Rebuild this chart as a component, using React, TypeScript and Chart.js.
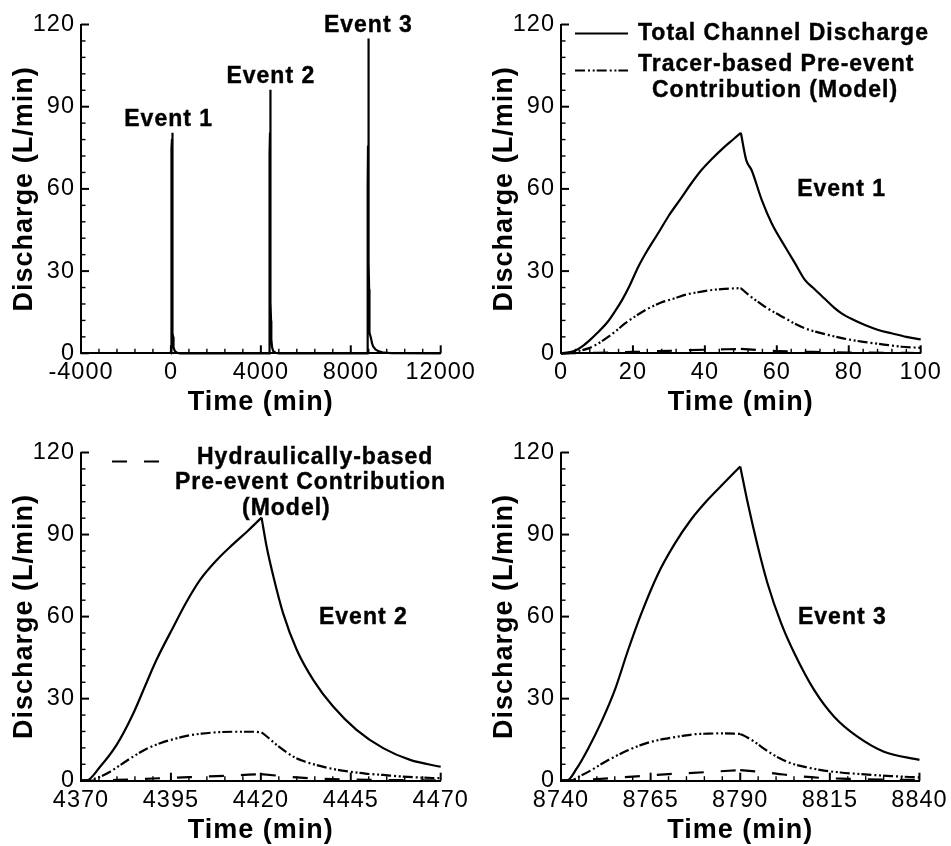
import React, { useEffect, useRef } from "react";
import { Chart, registerables } from "chart.js";

Chart.register(...registerables);

const FONT = "'Liberation Sans', Arial, Helvetica, sans-serif";

// ---------------- Event 1 (0 - 100 min) ----------------
const e1PeakTime = 50;
const e1TotalTime = [0, 1, 2, 4, 6, 8, 10, 13, 15, 17, 19, 21.5, 24, 27, 30, 33.5, 36, 39, 42, 45, 48, 50, 51.5, 53, 55.8, 58.6, 62.3, 65, 67.8, 70, 73.4, 76, 78, 81, 84.5, 88, 91.9, 96, 100];
const e1TotalQ = [0, 0, 0.3, 1.0, 2.6, 4.8, 7.3, 11.5, 15.3, 19.5, 24.5, 31.6, 37.5, 43.8, 50.3, 56.8, 61.6, 66.8, 71, 74.8, 78.2, 80.5, 70.5, 66.8, 56, 47.4, 38.9, 33, 26.8, 24, 19.8, 16.6, 14.6, 12.4, 10.3, 8.6, 7.3, 6.0, 5.1];
const e1TracerTime = [0, 3, 5, 7.6, 10, 13.2, 15.5, 17.8, 21, 24.3, 28, 31.7, 35, 39.1, 42, 45.6, 50, 52, 54, 56.7, 59.5, 62.3, 65, 67.8, 71, 74.3, 77.5, 80.8, 84, 87.3, 91, 94.7, 100];
const e1TracerQ = [0, 0.4, 0.9, 1.8, 3.3, 6.1, 8.4, 10.9, 13.8, 16.4, 18.6, 20.1, 21.5, 22.5, 23.1, 23.5, 23.8, 21.5, 19.5, 17, 14.8, 12.8, 10.8, 9.1, 7.8, 6.7, 5.7, 4.85, 4.2, 3.6, 3.0, 2.4, 2.0];
const e1HydroTime = [0, 10, 20, 30, 40, 50, 55, 60, 70, 80, 90, 100];
const e1HydroQ = [0, 0.2, 0.5, 0.9, 1.3, 1.6, 1.2, 0.8, 0.5, 0.3, 0.2, 0.1];

// ---------------- Event 2 (4370 - 4470 min) ----------------
const e2PeakTime = 4420.2;
const e2TotalTime = [4370, 4371.4, 4375.3, 4379.9, 4384.5, 4387.3, 4391, 4395.7, 4399.4, 4403.1, 4407.7, 4412.3, 4416.5, 4420.2, 4421.6, 4423.5, 4426.2, 4430, 4434.6, 4440.1, 4446.6, 4454, 4461.5, 4470];
const e2TotalQ = [0, 0, 5.1, 13.1, 24.5, 33, 44.2, 56.3, 65.5, 73.4, 80.6, 86.5, 91.5, 96.2, 85.6, 74.6, 61.2, 47.8, 36.8, 27.1, 18.6, 11.9, 7.6, 5.1];
const e2TracerTime = [4370, 4372.5, 4375, 4378.1, 4381, 4384.5, 4388, 4392, 4396, 4399.4, 4403.5, 4407.7, 4413, 4417.9, 4420.2, 4422, 4424.4, 4426.5, 4429, 4432, 4435.5, 4440, 4444.8, 4449, 4454, 4458.5, 4463.4, 4470];
const e2TracerQ = [0, 0.3, 1.3, 3.3, 5.8, 8.8, 11.5, 13.7, 15.3, 16.4, 17.2, 17.7, 17.9, 17.9, 17.7, 15.8, 13.1, 11, 8.8, 7.1, 5.7, 4.3, 3.3, 2.6, 2.1, 1.6, 1.2, 0.9];
const e2HydroTime = [4370, 4375, 4380, 4390, 4400, 4410, 4420, 4425, 4430, 4440, 4450, 4460, 4470];
const e2HydroQ = [0, 0.1, 0.3, 0.8, 1.3, 1.8, 2.4, 1.8, 1.2, 0.6, 0.3, 0.2, 0.1];

// ---------------- Event 3 (8740 - 8840 min) ----------------
const e3PeakTime = 8790;
const e3TotalTime = [8740, 8741.6, 8744.4, 8747.6, 8751.3, 8755, 8758.7, 8762.4, 8767.1, 8771.7, 8776.3, 8781, 8785.6, 8790, 8792.1, 8794.9, 8797.6, 8801.4, 8805.1, 8810.6, 8816.2, 8822.7, 8830.1, 8840];
const e3TotalQ = [0, 0, 4.5, 11.8, 21.6, 33.1, 47.7, 61.1, 75.7, 86.6, 95.5, 102.8, 109, 114.9, 101.5, 85.6, 72.2, 57.6, 46.6, 33.2, 23.4, 16.1, 10.6, 7.6];
const e3TracerTime = [8740, 8743, 8745.5, 8748.5, 8751.5, 8755, 8758.5, 8762.4, 8766, 8769.8, 8773.5, 8777.3, 8781, 8784.7, 8790, 8792, 8793.9, 8796, 8798.6, 8801, 8804.1, 8808.5, 8813.4, 8818, 8822.7, 8827, 8832, 8840];
const e3TracerQ = [0, 0.3, 1.8, 3.9, 6.3, 8.8, 11, 13.1, 14.5, 15.5, 16.3, 17, 17.2, 17.3, 17.1, 15.8, 14.3, 12.3, 10, 8.2, 6.4, 4.9, 3.7, 3.0, 2.5, 2.1, 1.7, 1.2];
const e3HydroTime = [8740, 8745, 8750, 8760, 8770, 8780, 8790, 8795, 8800, 8805, 8813, 8820, 8830, 8840];
const e3HydroQ = [0, 0.3, 0.6, 1.5, 2.4, 3.1, 3.9, 3.3, 2.6, 1.8, 1.0, 0.7, 0.4, 0.3];

// ---------------- Recession tails for the full record ----------------
const tail1Time = [130, 170, 250, 400];
const tail1Q = [2.2, 0.9, 0.3, 0];
const tail2Time = [4500, 4550, 4650, 4800];
const tail2Q = [2.2, 0.8, 0.2, 0];
const tail3Time = [8900, 8950, 9000, 9100, 9250, 9400, 9600, 9800, 12000];
const tail3Q = [5.5, 3.5, 2.4, 1.4, 0.7, 0.35, 0.2, 0.05, 0];

// ---------------- Tick labels ----------------
const overviewXTicks = [-4000, 0, 4000, 8000, 12000];
const e1XTicks = [0, 20, 40, 60, 80, 100];
const e2XTicks = [4370, 4395, 4420, 4445, 4470];
const e3XTicks = [8740, 8765, 8790, 8815, 8840];
const yTicks = [0, 30, 60, 90, 120];

// ---------------- Text ----------------
const xTitle = "Time (min)";
const yTitle = "Discharge (L/min)";
const legendTotal = ["Total Channel Discharge"];
const legendTracer = ["Tracer-based Pre-event", "Contribution (Model)"];
const legendHydro = ["Hydraulically-based", "Pre-event Contribution", "(Model)"];
const eventNames = ["Event 1", "Event 2", "Event 3"];

const zip = (t: number[], q: number[]) => t.map((x, i) => ({ x, y: q[i] }));

const DASH_SOLID: number[] = [];
const DASH_TRACER = [10, 3, 2, 2.7, 2, 2];
const DASH_HYDRO = [15, 17];

const overviewTime = [...e1TotalTime, ...tail1Time, ...e2TotalTime, ...tail2Time, ...e3TotalTime, ...tail3Time];
const overviewQ = [...e1TotalQ, ...tail1Q, ...e2TotalQ, ...tail2Q, ...e3TotalQ, ...tail3Q];

type Area = { left: number; top: number; right: number; bottom: number };
type Series = { data: { x: number; y: number }[]; dash: number[]; split?: number };
type EventLabel = { x: number; y: number; text: string };
type LegendEntry = { x1: number; x2: number; y: number; dash: number[]; lines: { dx: number; dy: number; text: string }[] };
type PanelCfg = {
  area: Area;
  xTicks: number[];
  yTicks: number[];
  series: Series[];
  events: EventLabel[];
  legend: LegendEntry[];
};

const W = 951;
const H = 846;
const YW = 70; // y scale box width
const XH = 63; // x scale box height
const SPACING = "1px";
const TICK_SIZE = 23.5;
const TITLE_SIZE = 27;
const LABEL_SIZE = 23;

const panels: PanelCfg[] = [
  {
    area: { left: 81, top: 24.5, right: 440.7, bottom: 353.3 },
    xTicks: overviewXTicks,
    yTicks,
    series: [{ data: zip(overviewTime, overviewQ), dash: DASH_SOLID }],
    events: [
      { x: -100, y: 85.2, text: eventNames[0] },
      { x: 4443, y: 101.1, text: eventNames[1] },
      { x: 8780, y: 119.5, text: eventNames[2] },
    ],
    legend: [],
  },
  {
    area: { left: 561, top: 24.5, right: 920.7, bottom: 353.3 },
    xTicks: e1XTicks,
    yTicks,
    series: [
      { data: zip(e1TotalTime, e1TotalQ), dash: DASH_SOLID, split: e1PeakTime },
      { data: zip(e1TracerTime, e1TracerQ), dash: DASH_TRACER, split: e1PeakTime },
      { data: zip(e1HydroTime, e1HydroQ), dash: DASH_HYDRO, split: e1PeakTime },
    ],
    events: [{ x: 78, y: 59.6, text: eventNames[0] }],
    legend: [
      { x1: 14, x2: 67, y: 9, dash: DASH_SOLID, lines: [{ dx: 77, dy: 9.5, text: legendTotal[0] }] },
      {
        x1: 14, x2: 67, y: 46, dash: DASH_TRACER,
        lines: [
          { dx: 77, dy: 40.5, text: legendTracer[0] },
          { dx: 91, dy: 66.5, text: legendTracer[1] },
        ],
      },
    ],
  },
  {
    area: { left: 81, top: 452.5, right: 440.7, bottom: 780.7 },
    xTicks: e2XTicks,
    yTicks,
    series: [
      { data: zip(e2TotalTime, e2TotalQ), dash: DASH_SOLID, split: e2PeakTime },
      { data: zip(e2TracerTime, e2TracerQ), dash: DASH_TRACER, split: e2PeakTime },
      { data: zip(e2HydroTime, e2HydroQ), dash: DASH_HYDRO, split: 4420 },
    ],
    events: [{ x: 4448.5, y: 59.6, text: eventNames[1] }],
    legend: [
      {
        x1: 31, x2: 79, y: 9, dash: DASH_HYDRO,
        lines: [
          { dx: 116, dy: 5, text: legendHydro[0] },
          { dx: 94, dy: 30, text: legendHydro[1] },
          { dx: 161, dy: 56, text: legendHydro[2] },
        ],
      },
    ],
  },
  {
    area: { left: 561, top: 452.5, right: 920.7, bottom: 780.7 },
    xTicks: e3XTicks,
    yTicks,
    series: [
      { data: zip(e3TotalTime, e3TotalQ), dash: DASH_SOLID, split: e3PeakTime },
      { data: zip(e3TracerTime, e3TracerQ), dash: DASH_TRACER, split: e3PeakTime },
      { data: zip(e3HydroTime, e3HydroQ), dash: DASH_HYDRO, split: e3PeakTime },
    ],
    events: [{ x: 8818.5, y: 59.6, text: eventNames[2] }],
    legend: [],
  },
];

function makeDecor(cfg: PanelCfg) {
  return {
    id: "decor",
    beforeDraw(chart: any) {
      chart.ctx.letterSpacing = SPACING;
    },
    afterDraw(chart: any) {
      const ctx: CanvasRenderingContext2D = chart.ctx;
      const { left, top, bottom } = chart.chartArea;
      const xs = chart.scales.x;
      const ys = chart.scales.y;
      ctx.save();
      ctx.strokeStyle = "#000";
      ctx.setLineDash([]);
      const tick = (x1: number, y1: number, x2: number, y2: number, w: number) => {
        ctx.lineWidth = w;
        ctx.beginPath();
        ctx.moveTo(x1, y1);
        ctx.lineTo(x2, y2);
        ctx.stroke();
      };
      // x ticks (inward)
      const xt = cfg.xTicks;
      for (let i = 0; i < xt.length; i++) {
        const px = xs.getPixelForValue(xt[i]);
        tick(px, bottom, px, bottom - 8, 2);
        if (i < xt.length - 1) {
          for (let k = 1; k < 5; k++) {
            const v = xt[i] + (k * (xt[i + 1] - xt[i])) / 5;
            const p = xs.getPixelForValue(v);
            tick(p, bottom, p, bottom - 4.5, 1.4);
          }
        }
      }
      // y ticks (inward)
      const yt = cfg.yTicks;
      for (let i = 0; i < yt.length; i++) {
        const py = ys.getPixelForValue(yt[i]);
        tick(left, py, left + 8, py, 2);
        if (i < yt.length - 1) {
          for (let k = 1; k < 5; k++) {
            const v = yt[i] + (k * (yt[i + 1] - yt[i])) / 5;
            const p = ys.getPixelForValue(v);
            tick(left, p, left + 4.5, p, 1.4);
          }
        }
      }
      // event labels
      ctx.fillStyle = "#000";
      ctx.strokeStyle = "#000";
      ctx.font = `bold ${LABEL_SIZE}px ${FONT}`;
      ctx.textBaseline = "middle";
      ctx.textAlign = "center";
      ctx.lineWidth = 0.4;
      for (const e of cfg.events) {
        const x = xs.getPixelForValue(e.x);
        const y = ys.getPixelForValue(e.y);
        ctx.fillText(e.text, x, y);
        ctx.strokeText(e.text, x, y);
      }
      // legend
      ctx.textAlign = "left";
      for (const l of cfg.legend) {
        ctx.lineWidth = 2;
        ctx.setLineDash(l.dash);
        ctx.beginPath();
        ctx.moveTo(left + l.x1, top + l.y);
        ctx.lineTo(left + l.x2, top + l.y);
        ctx.stroke();
        ctx.setLineDash([]);
        ctx.lineWidth = 0.4;
        for (const t of l.lines) {
          ctx.fillText(t.text, left + t.dx, top + t.dy);
          ctx.strokeText(t.text, left + t.dx, top + t.dy);
        }
      }
      ctx.restore();
    },
  };
}

function buildDatasets(series: Series[]) {
  const out: any[] = [];
  for (const s of series) {
    const base = {
      borderColor: "#000",
      backgroundColor: "#000",
      borderWidth: 2.2,
      borderDash: s.dash,
      pointRadius: 0,
      fill: false,
      clip: 3,
    };
    if (s.split === undefined) {
      out.push({ ...base, data: s.data, tension: 0 });
    } else {
      const rise = s.data.filter((p) => p.x <= s.split!);
      const fall = s.data.filter((p) => p.x >= s.split!);
      out.push({ ...base, data: rise, cubicInterpolationMode: "monotone" });
      out.push({ ...base, data: fall, cubicInterpolationMode: "monotone" });
    }
  }
  return out;
}

function Panel({ cfg }: { cfg: PanelCfg }) {
  const ref = useRef<HTMLCanvasElement>(null);
  useEffect(() => {
    const canvas = ref.current;
    if (!canvas) return;
    const a = cfg.area;
    const chart = new Chart(canvas, {
      type: "line",
      data: { datasets: buildDatasets(cfg.series) },
      options: {
        responsive: false,
        animation: false,
        devicePixelRatio: 1,
        events: [],
        layout: {
          padding: {
            left: a.left - YW,
            top: a.top,
            right: W - a.right,
            bottom: H - a.bottom - XH,
          },
        },
        plugins: {
          legend: { display: false },
          tooltip: { enabled: false },
        },
        scales: {
          x: {
            type: "linear",
            min: cfg.xTicks[0],
            max: cfg.xTicks[cfg.xTicks.length - 1],
            afterBuildTicks: (s: any) => {
              s.ticks = cfg.xTicks.map((v) => ({ value: v }));
            },
            afterFit: (s: any) => {
              s.height = XH;
            },
            ticks: {
              autoSkip: false,
              maxRotation: 0,
              padding: 5.4,
              color: "#000",
              font: { family: FONT, size: TICK_SIZE },
              callback: (v: any) => String(v),
            },
            grid: { display: false, drawTicks: false },
            border: { display: true, color: "#000", width: 2 },
            title: {
              display: true,
              text: xTitle,
              color: "#000",
              padding: 0,
              font: { family: FONT, size: TITLE_SIZE, weight: "bold", lineHeight: 1 },
            },
          },
          y: {
            type: "linear",
            min: cfg.yTicks[0],
            max: cfg.yTicks[cfg.yTicks.length - 1],
            afterBuildTicks: (s: any) => {
              s.ticks = cfg.yTicks.map((v) => ({ value: v }));
            },
            afterFit: (s: any) => {
              s.width = YW;
            },
            ticks: {
              padding: 6,
              color: "#000",
              font: { family: FONT, size: TICK_SIZE },
              callback: (v: any) => String(v),
            },
            grid: { display: false, drawTicks: false },
            border: { display: true, color: "#000", width: 2 },
            title: {
              display: true,
              text: yTitle,
              color: "#000",
              padding: 0,
              font: { family: FONT, size: TITLE_SIZE, weight: "bold", lineHeight: 1 },
            },
          },
        },
      } as any,
      plugins: [makeDecor(cfg)],
    });
    return () => chart.destroy();
  }, [cfg]);
  return (
    <canvas
      ref={ref}
      width={W}
      height={H}
      style={{ position: "absolute", left: 0, top: 0, width: W, height: H }}
    />
  );
}

export default function App() {
  return (
    <div style={{ position: "absolute", left: 0, top: 0, width: W, height: H, background: "#fff" }}>
      {panels.map((p, i) => (
        <Panel key={i} cfg={p} />
      ))}
    </div>
  );
}
